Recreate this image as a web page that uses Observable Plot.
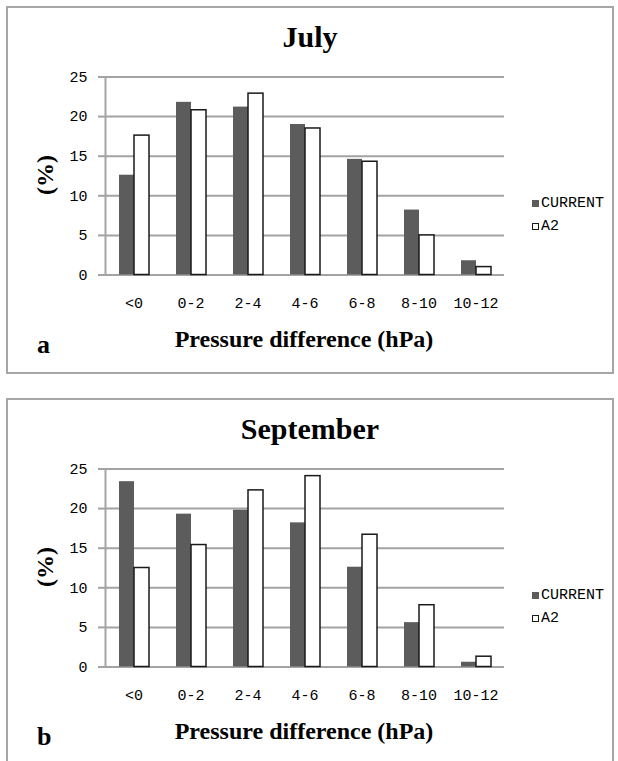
<!DOCTYPE html>
<html>
<head>
<meta charset="utf-8">
<script src="https://cdn.jsdelivr.net/npm/d3@7"></script>
<script src="https://cdn.jsdelivr.net/npm/@observablehq/plot@0.6"></script>
<style>
  html, body { margin: 0; padding: 0; background: #fff; }
  body { width: 618px; height: 761px; overflow: hidden; position: relative; }
  .panel { position: absolute; left: 6px; width: 608px; height: 368px; box-sizing: border-box;
           border: 2px solid #a6a6a6; background: #fff; }
  .panel svg { position: absolute; left: 0; top: 0; }
  .serif { font-family: "Liberation Serif", "DejaVu Serif", serif; font-weight: bold; color: #000;
           position: absolute; line-height: 1; white-space: nowrap; }
  .title { left: 0; width: 604px; text-align: center; font-size: 30px; top: 14px; }
  .xlab { font-size: 24px; left: 296px; top: 318.6px; transform: translateX(-50%); }
  .ylab { font-size: 24px; left: 37px; top: 167px; transform: translate(-50%, -50%) rotate(-90deg); }
  .letter { font-size: 26px; left: 29px; top: 324px; }
  .leg { position: absolute; left: 524px; height: 16px; display: flex; align-items: center;
         font-family: "Liberation Mono", "DejaVu Sans Mono", monospace; font-size: 15px; color: #000; }
  .sw { width: 7px; height: 7px; box-sizing: border-box; margin-right: 2px; }
</style>
</head>
<body>
<script>
const categories = ["<0", "0-2", "2-4", "4-6", "6-8", "8-10", "10-12"];
const series = ["CURRENT", "A2"];
const yTicks = [0, 5, 10, 15, 20, 25];

const julyCurrent = [12.6, 21.8, 21.2, 19.0, 14.6, 8.2, 1.8];
const julyA2      = [17.6, 20.8, 22.9, 18.5, 14.3, 5.0, 1.0];
const sepCurrent  = [23.4, 19.3, 19.8, 18.2, 12.6, 5.6, 0.6];
const sepA2       = [12.5, 15.4, 22.3, 24.1, 16.7, 7.8, 1.3];

const panels = [
  {title: "July", letter: "a", current: julyCurrent, a2: julyA2, top: 6},
  {title: "September", letter: "b", current: sepCurrent, a2: sepA2, top: 398}
];

const colors = {CURRENT: "#5c5c5c", A2: "#ffffff"};

function makeTable(cur, a2) {
  return categories.flatMap((c, i) => [
    {cat: c, series: series[0], value: cur[i]},
    {cat: c, series: series[1], value: a2[i]}
  ]);
}

function chart(cur, a2) {
  const data = makeTable(cur, a2);
  return Plot.plot({
    width: 604,
    height: 364,
    marginLeft: 96,
    marginRight: 107,
    marginTop: 68.5,
    marginBottom: 97.5,
    style: {fontFamily: "'Liberation Mono', 'DejaVu Sans Mono', monospace", fontSize: "15px",
            color: "#000", background: "transparent", overflow: "visible"},
    fx: {domain: categories, padding: 0, label: null, tickSize: 0, tickPadding: 22, axis: "bottom"},
    x: {domain: series, paddingInner: 0, paddingOuter: 0.8, axis: null},
    y: {domain: [0, 25], label: null},
    marks: [
      Plot.gridY(yTicks, {stroke: "#a3a3a3", strokeOpacity: 1, strokeWidth: 2}),
      Plot.frame({anchor: "left", stroke: "#a3a3a3", strokeWidth: 2, facetAnchor: "left"}),
      Plot.axisY(yTicks, {tickSize: 7, tickPadding: 11, stroke: "#a3a3a3", strokeWidth: 2,
                          fill: "#000", label: null}),
      Plot.barY(data.filter(d => d.series === series[0]),
                {fx: "cat", x: "series", y: "value", fill: colors.CURRENT}),
      Plot.barY(data.filter(d => d.series === series[1]),
                {fx: "cat", x: "series", y: "value", fill: colors.A2, stroke: "#1a1a1a", strokeWidth: 1.5})
    ]
  });
}

for (const p of panels) {
  const div = document.createElement("div");
  div.className = "panel";
  div.style.top = p.top + "px";
  div.appendChild(chart(p.current, p.a2));

  const t = document.createElement("div");
  t.className = "serif title"; t.textContent = p.title; div.appendChild(t);

  const xl = document.createElement("div");
  xl.className = "serif xlab"; xl.textContent = "Pressure difference (hPa)"; div.appendChild(xl);

  const yl = document.createElement("div");
  yl.className = "serif ylab"; yl.textContent = "(%)"; div.appendChild(yl);

  const lt = document.createElement("div");
  lt.className = "serif letter"; lt.textContent = p.letter; div.appendChild(lt);

  series.forEach((s, i) => {
    const row = document.createElement("div");
    row.className = "leg";
    row.style.top = (187 + i * 23.7) + "px";
    const sw = document.createElement("span");
    sw.className = "sw";
    sw.style.background = colors[s];
    if (s === "A2") sw.style.border = "1px solid #1a1a1a";
    row.appendChild(sw);
    const tx = document.createElement("span");
    tx.textContent = s;
    row.appendChild(tx);
    div.appendChild(row);
  });

  document.body.appendChild(div);
}
</script>
</body>
</html>
